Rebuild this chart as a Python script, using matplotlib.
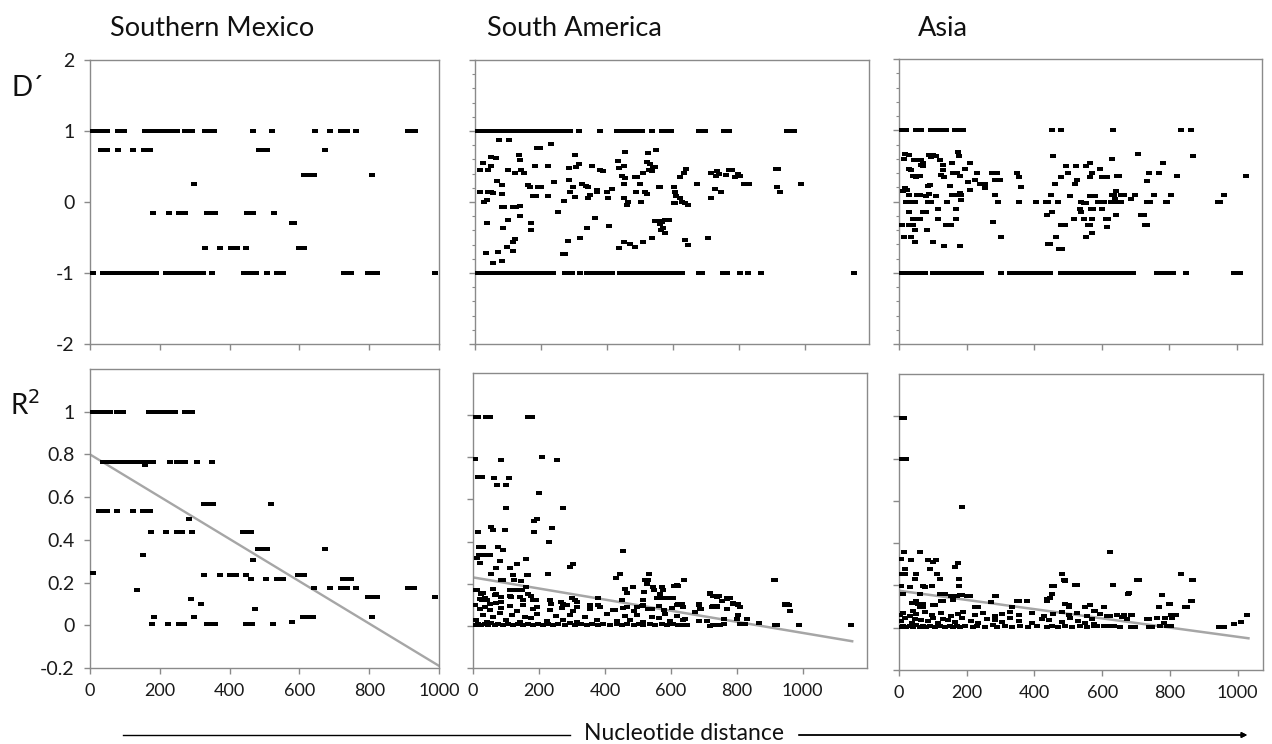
import matplotlib
matplotlib.use("Agg")
import matplotlib.pyplot as plt
from matplotlib.lines import Line2D
from matplotlib.path import Path
from matplotlib.ticker import MultipleLocator

plt.rcParams['font.family'] = ['Lato', 'DejaVu Sans']

# ---------------- data ----------------
region_titles = ["Southern Mexico", "South America", "Asia"]
x_tick_values = [0, 200, 400, 600, 800, 1000]
x_tick_labels = ["0", "200", "400", "600", "800", "1000"]
d_tick_values = [-2, -1, 0, 1, 2]
d_tick_labels = ["-2", "-1", "0", "1", "2"]
r_tick_values = [-0.2, 0, 0.2, 0.4, 0.6, 0.8, 1.0]
r_tick_labels = ["-0.2", "0", "0.2", "0.4", "0.6", "0.8", "1"]

# Southern Mexico D' : rows of constant value
mex_d_row_y = [1.0, 0.73, 0.38, 0.25, -0.15, -0.29, -0.65, -1.0]
mex_d_row_x = [
    [5, 14, 24, 33, 50, 81, 98, 159, 174, 184, 193, 203, 214, 228, 238, 248, 271, 281, 292,
     330, 340, 355, 468, 521, 644, 688, 719, 736, 763, 911, 921, 930],
    [31, 50, 79, 124, 155, 165, 172, 483, 495, 507, 674],
    [614, 628, 643, 807],
    [299],
    [181, 226, 255, 271, 336, 347, 359, 449, 458, 467, 526],
    [578, 584],
    [329, 373, 405, 420, 447, 598, 606, 614],
    [10, 38, 46, 54, 62, 70, 78, 86, 94, 102, 110, 118, 126, 134, 143, 152, 162, 172, 181, 190,
     217, 228, 236, 248, 257, 267, 276, 288, 298, 309, 324, 350, 441, 450, 460, 476, 506, 536,
     554, 728, 738, 747, 797, 806, 822, 988],
]

# Southern Mexico R^2 : rows of constant value
mex_r_row_y = [1.0, 0.765, 0.75, 0.57, 0.535, 0.497, 0.436, 0.358, 0.331, 0.306, 0.247,
               0.2375, 0.217, 0.175, 0.164, 0.133, 0.123, 0.1, 0.075, 0.0375, 0.016, 0.008]
mex_r_row_x = [
    [5, 14, 24, 33, 43, 57, 76, 95, 170, 180, 189, 199, 208, 218, 225, 234, 244, 272, 282, 291],
    [36, 45, 55, 65, 74, 84, 93, 103, 112, 122, 131, 138, 153, 162, 172, 181, 229, 248, 263,
     272, 306, 349],
    [158],
    [327, 340, 353, 520],
    [27, 36, 50, 76, 122, 151, 162, 172],
    [285],
    [174, 218, 248, 265, 291, 439, 450, 460],
    [482, 494, 506, 673],
    [151],
    [468],
    [10],
    [328, 372, 401, 418, 447, 595, 604, 613],
    [460, 504, 535, 552, 726, 736, 747],
    [643, 688, 718, 735, 762, 912, 920, 928],
    [136],
    [797, 806, 821, 988],
    [289],
    [318],
    [473],
    [184, 298, 611, 626, 640, 807],
    [580],
    [179, 224, 255, 270, 334, 346, 358, 447, 456, 465, 525],
]
mex_trend_x = [0, 1000]
mex_trend_y = [0.80, -0.19]

# South America D'
sa_d_row_y = [1.0, -1.0]
sa_d_row_x = [
    [0, 10, 20, 30, 40, 50, 60, 70, 80, 90, 100, 110, 120, 130, 137, 147, 157, 167, 182, 197,
     207, 217, 227, 237, 248, 256, 273, 289, 314, 378, 430, 440, 450, 460, 470, 481, 491, 506,
     537, 567, 577, 587, 593, 679, 689, 699, 755, 770, 947, 957, 967],
    [0, 10, 20, 30, 40, 50, 60, 70, 80, 90, 100, 110, 120, 130, 140, 150, 160, 170, 180, 190,
     198, 208, 228, 238, 274, 284, 294, 319, 339, 349, 359, 375, 385, 395, 405, 415, 441, 451,
     461, 471, 481, 491, 501, 511, 521, 531, 541, 551, 561, 571, 581, 591, 601, 611, 620, 628,
     679, 689, 753, 763, 803, 829, 866, 1148],
]
sa_d_x = [73, 103, 231, 187, 197, 302, 454, 524, 550, 48, 63, 132, 137, 24, 434, 314, 15, 38,
          48, 99, 122, 139, 149, 182, 220, 284, 307, 355, 380, 388, 438, 453, 522, 532, 539,
          527, 537, 547, 641, 633, 621, 716, 734, 739, 731, 770, 780, 761, 798, 805, 790, 912,
          919, 446, 456, 484, 491, 511, 68, 83, 160, 167, 190, 200, 241, 284, 296, 326, 336,
          344, 370, 415, 451, 501, 557, 562, 603, 674, 729, 747, 815, 830, 917, 925, 988, 15,
          48, 56, 83, 177, 184, 221, 289, 304, 349, 344, 370, 400, 402, 489, 517, 522, 453,
          463, 461, 503, 608, 611, 621, 628, 638, 645, 603, 608, 717, 27, 35, 40, 271, 83, 89,
          114, 124, 135, 253, 137, 99, 35, 170, 86, 170, 365, 407, 339, 547, 557, 567, 577,
          588, 562, 570, 564, 577, 319, 282, 122, 116, 114, 96, 71, 33, 56, 83, 266, 273, 438,
          453, 469, 486, 511, 537, 636, 645, 707]
sa_d_y = [0.87, 0.87, 0.82, 0.755, 0.755, 0.665, 0.70, 0.69, 0.73, 0.64, 0.62, 0.665, 0.59,
          0.55, 0.575, 0.54, 0.45, 0.45, 0.505, 0.45, 0.405, 0.45, 0.405, 0.505, 0.505, 0.48,
          0.49, 0.505, 0.45, 0.435, 0.48, 0.505, 0.56, 0.53, 0.49, 0.45, 0.44, 0.49, 0.47,
          0.405, 0.35, 0.405, 0.44, 0.40, 0.36, 0.45, 0.45, 0.38, 0.395, 0.37, 0.35, 0.46,
          0.46, 0.36, 0.34, 0.35, 0.35, 0.405, 0.29, 0.24, 0.24, 0.21, 0.217, 0.217, 0.28,
          0.31, 0.21, 0.255, 0.23, 0.21, 0.17, 0.18, 0.26, 0.255, 0.217, 0.217, 0.217, 0.255,
          0.18, 0.146, 0.255, 0.255, 0.21, 0.137, 0.255, 0.146, 0.146, 0.12, 0.11, 0.09, 0.09,
          0.08, 0.146, 0.075, 0.10, 0.05, 0.146, 0.146, 0.05, 0.137, 0.146, 0.11, 0.057,
          -0.005, -0.038, 0.005, 0.146, 0.09, 0.05, 0.005, -0.02, -0.04, -0.02, -0.02, 0.05,
          0.005, 0.03, 0.146, 0.02, -0.075, -0.075, -0.075, -0.066, -0.06, -0.146, -0.2,
          -0.255, -0.29, -0.29, -0.37, -0.395, -0.226, -0.335, -0.37, -0.264, -0.264, -0.28,
          -0.255, -0.25, -0.31, -0.36, -0.40, -0.44, -0.5, -0.547, -0.52, -0.557, -0.69, -0.63,
          -0.70, -0.72, -0.86, -0.83, -0.73, -0.73, -0.646, -0.57, -0.59, -0.64, -0.57, -0.5,
          -0.53, -0.60, -0.5]

# South America R^2
sa_r_x = [0, 8, 15, 38, 46, 53, 167, 174, 180, 7, 84, 210, 255, 15, 22, 28, 64, 109, 73, 101,
          200, 101, 274, 15, 56, 61, 97, 185, 194, 185, 240, 231, 18, 30, 18, 28, 38, 51, 12,
          20, 76, 91, 81, 71, 113, 132, 160, 164, 167, 56, 84, 91, 122, 125, 147, 228, 294,
          302, 454, 433, 446, 522, 532, 535, 527, 641, 611, 622, 912, 917,
          7, 12, 25, 30, 20, 27, 35, 43, 51, 61, 66, 71, 86, 86, 111, 122, 134, 142, 150, 160,
          167, 177, 111, 116, 142, 152, 182, 192, 233, 238, 268, 274, 299, 309, 314, 355, 380,
          385, 425, 451, 461, 466, 486, 496, 512, 517, 519, 532, 547, 550, 557, 567, 572, 575,
          577, 588, 598, 608, 618, 623, 633, 638, 684, 689, 719, 724, 734, 745, 740, 770, 775,
          790, 805, 810, 947, 952, 962,
          5, 15, 25, 36, 46, 56, 66, 76, 91, 107, 122, 137, 152, 167, 182, 198, 213, 228, 243,
          258, 279, 294, 309, 329, 345, 360, 380, 395, 416, 436, 451, 466, 487, 502, 517, 537,
          552, 573, 588, 608, 623,
          10, 30, 41, 61, 81, 101, 117, 142, 157, 177, 193, 223, 253, 274, 294, 314, 340, 375,
          405, 436, 461, 476, 497, 517, 542, 563, 583, 598, 618, 638,
          5, 20, 36, 51, 71, 86, 112, 132, 152, 182, 193, 233, 269, 284, 304, 314, 355, 380,
          431, 456, 466, 487, 517, 542, 563, 578, 603, 618,
          638, 648, 643, 633, 684, 691, 684, 709, 719, 729, 739, 750, 760, 729, 739, 770, 800,
          805, 810, 826, 831, 866, 917, 922, 988, 1147, 674, 760, 719, 729, 739, 755, 770, 780,
          790, 805, 947, 957, 962]
sa_r_y = [0.99, 0.99, 0.99, 0.99, 0.99, 0.99, 0.99, 0.99, 0.99, 0.79, 0.785, 0.80, 0.785,
          0.706, 0.706, 0.706, 0.70, 0.70, 0.668, 0.668, 0.63, 0.56, 0.56, 0.445, 0.47, 0.453,
          0.453, 0.5, 0.505, 0.445, 0.464, 0.40, 0.374, 0.374, 0.335, 0.335, 0.338, 0.338,
          0.32, 0.30, 0.374, 0.36, 0.31, 0.275, 0.275, 0.295, 0.316, 0.243, 0.243, 0.248, 0.22,
          0.22, 0.24, 0.22, 0.213, 0.248, 0.28, 0.295, 0.355, 0.227, 0.248, 0.22, 0.22, 0.248,
          0.2, 0.22, 0.19, 0.19, 0.22, 0.22,
          0.172, 0.172, 0.153, 0.156, 0.126, 0.125, 0.13, 0.122, 0.106, 0.177, 0.145, 0.153,
          0.137, 0.114, 0.169, 0.169, 0.172, 0.169, 0.172, 0.185, 0.153, 0.14, 0.14, 0.137,
          0.137, 0.125, 0.122, 0.125, 0.122, 0.106, 0.114, 0.106, 0.133, 0.122, 0.114, 0.098,
          0.133, 0.09, 0.074, 0.125, 0.177, 0.156, 0.185, 0.09, 0.095, 0.122, 0.161, 0.082,
          0.185, 0.169, 0.134, 0.153, 0.185, 0.169, 0.134, 0.13, 0.134, 0.134, 0.193, 0.106,
          0.106, 0.09, 0.103, 0.082, 0.153, 0.09, 0.14, 0.14, 0.09, 0.13, 0.13, 0.106, 0.103,
          0.09, 0.103, 0.103, 0.071,
          0.005, 0.01, 0.003, 0.008, 0.005, 0.012, 0.003, 0.008, 0.005, 0.01, 0.003, 0.008,
          0.005, 0.01, 0.003, 0.008, 0.005, 0.01, 0.003, 0.008, 0.005, 0.012, 0.003, 0.008,
          0.005, 0.01, 0.003, 0.008, 0.005, 0.01, 0.003, 0.008, 0.005, 0.01, 0.003, 0.008,
          0.005, 0.01, 0.003, 0.008, 0.005,
          0.03, 0.05, 0.02, 0.04, 0.06, 0.03, 0.05, 0.02, 0.04, 0.035, 0.055, 0.025, 0.045,
          0.03, 0.05, 0.02, 0.04, 0.03, 0.055, 0.025, 0.045, 0.03, 0.05, 0.02, 0.04, 0.035,
          0.055, 0.025, 0.045, 0.03,
          0.1, 0.08, 0.09, 0.075, 0.11, 0.085, 0.095, 0.07, 0.1, 0.08, 0.09, 0.075, 0.085, 0.1,
          0.07, 0.09, 0.08, 0.1, 0.075, 0.085, 0.09, 0.07, 0.1, 0.08, 0.095, 0.075, 0.085, 0.1,
          0.003, 0.003, 0.034, 0.1, 0.1, 0.08, 0.023, 0.023, 0.0, 0.003, 0.003, 0.006, 0.01,
          0.092, 0.092, 0.08, 0.034, 0.05, 0.008, 0.008, 0.034, 0.014, 0.003, 0.003, 0.006,
          0.003, 0.066, 0.034, 0.155, 0.144, 0.139, 0.117, 0.128, 0.133, 0.108, 0.097, 0.1,
          0.1, 0.07]
sa_trend_x = [0, 1150]
sa_trend_y = [0.23, -0.073]

# Asia D'
as_d_row_y = [1.0, -1.0]
as_d_row_x = [
    [2, 12, 22, 51, 66, 96, 106, 116, 126, 140, 166, 176, 190, 452, 481, 634, 834, 866],
    [0, 10, 20, 30, 40, 50, 60, 70, 76, 101, 111, 121, 131, 145, 158, 168, 178, 188, 198, 208,
     218, 228, 244, 303, 328, 338, 348, 358, 368, 378, 388, 398, 408, 418, 428, 440, 446, 481,
     491, 501, 511, 521, 531, 541, 551, 561, 571, 581, 591, 601, 611, 621, 631, 641, 651, 661,
     671, 681, 693, 763, 783, 793, 810, 850, 992, 1010],
]
as_d_x = [17, 15, 31, 30, 37, 40, 47, 61, 51, 45, 56, 66, 71, 71, 66, 89, 101, 111, 96, 121,
          129, 129, 125, 132, 158, 160, 172, 175, 178, 182, 195, 210, 210, 185, 17, 12, 24, 30,
          22, 37, 46, 54, 61, 86, 96, 110, 86, 89, 81, 91, 116, 141, 150, 158, 170, 180, 185,
          30, 41, 54, 61, 71, 81, 10, 30, 41, 46, 15, 35, 48, 84, 101, 116, 140, 155, 170, 170,
          180, 132, 205, 225, 231, 239, 254, 254, 274, 289, 284, 299, 284, 294, 277, 303, 348,
          355, 362, 355, 407, 434, 441, 451, 454, 456, 461, 471, 437, 447, 442, 481, 491, 466,
          474, 484, 481, 496, 501, 506, 518, 521, 524, 526, 538, 536, 538, 548, 553, 548, 553,
          565, 560, 555, 565, 565, 573, 565, 570, 575, 573, 573, 595, 600, 610, 615, 580, 590,
          601, 608, 613, 616, 619, 632, 627, 632, 637, 640, 642, 647, 646, 644, 651, 656, 666,
          656, 687, 698, 718, 725, 728, 733, 733, 741, 708, 735, 743, 755, 771, 781, 790, 795,
          805, 822, 871, 945, 952, 963, 1029]
as_d_y = [0.67, 0.60, 0.656, 0.456, 0.437, 0.353, 0.353, 0.353, 0.34, 0.577, 0.577, 0.586,
          0.54, 0.493, 0.516, 0.656, 0.656, 0.642, 0.628, 0.586, 0.516, 0.446, 0.377, 0.34,
          0.54, 0.4, 0.4, 0.7, 0.642, 0.353, 0.456, 0.54, 0.167, 0.098, 0.19, 0.144, 0.167,
          0.098, 0.0, 0.0, 0.0, 0.09, 0.098, 0.0, 0.0, 0.074, 0.223, 0.111, 0.074, 0.237, -0.1,
          0.0, 0.214, 0.09, 0.09, 0.12, 0.028, -0.144, -0.25, -0.25, -0.25, -0.144, -0.144,
          -0.33, -0.33, -0.33, -0.4, -0.5, -0.5, -0.567, -0.4, -0.567, -0.25, -0.33, -0.33,
          -0.1, -0.25, -0.62, -0.62, 0.274, 0.307, 0.4, 0.25, 0.25, 0.19, 0.4, 0.4, 0.307,
          0.307, 0.098, 0.0, -0.284, -0.5, 0.4, 0.34, 0.2, 0.0, 0.0, 0.0, 0.0, 0.09, -0.144,
          0.642, 0.247, 0.0, -0.195, -0.6, -0.6, -0.33, -0.33, -0.5, -0.67, -0.67, 0.34, 0.493,
          0.4, 0.084, -0.25, 0.247, 0.493, 0.307, 0.0, -0.112, -0.144, -0.028, -0.028, -0.25,
          -0.5, -0.33, -0.33, 0.5, 0.54, 0.34, 0.4, 0.074, -0.112, -0.112, -0.25, -0.437,
          0.456, 0.34, 0.34, 0.34, 0.074, 0.0, -0.1, 0.0, -0.25, -0.353, -0.25, 0.6, 0.0,
          0.098, 0.098, 0.042, -0.195, 0.0, 0.353, 0.144, 0.353, 0.098, 0.098, 0.0, 0.037,
          0.098, -0.195, -0.195, -0.33, -0.33, 0.284, 0.4, 0.67, 0.0, 0.0, 0.098, 0.4, 0.54,
          0.0, 0.0, 0.098, 0.353, 0.632, 0.0, 0.0, 0.098, 0.353]

# Asia R^2
as_r_x = [2, 8, 15, 7, 12, 22, 185, 622, 15, 61, 7, 34, 86, 101, 108, 93, 165, 175, 10, 17,
          19, 51, 46, 111, 122, 32, 71, 76, 96, 178, 178, 7, 12, 61, 50, 41, 120, 135, 155,
          180, 200, 210, 125, 101, 71, 56, 37,
          285, 348, 377, 437, 452, 458, 481, 486, 491, 521, 526, 491, 501, 549, 563, 605, 631,
          677, 704, 777, 767, 797, 832, 866, 861, 846, 1028, 1010, 990, 960, 950, 945,
          42, 61, 71, 106, 130, 160, 170, 185, 224, 234, 273, 283, 333, 353, 437, 447, 451,
          491, 501, 526, 550, 565, 575, 632, 679, 708, 869, 799, 769, 850, 864,
          2, 12, 22, 32, 42, 51, 61, 71, 81, 91, 106, 121, 135, 150, 160, 170, 180, 195, 219,
          229, 254, 278, 288, 313, 333, 358, 382, 407, 437, 451, 471, 491, 511, 535, 555, 575,
          7, 17, 37, 46, 66, 86, 101, 116, 130, 145, 165, 185, 214, 234, 259, 283, 303, 328,
          353, 392, 422, 442, 481, 506, 530, 550, 570,
          2, 12, 32, 51, 76, 96, 125, 155, 175, 190, 224, 249, 283, 303, 328, 353, 392, 427,
          456, 481, 501, 526, 555,
          570, 580, 595, 606, 614, 624, 644, 659, 664, 684, 689, 674, 733, 738, 763, 802, 817,
          807, 787, 784, 792, 575, 585, 605, 619, 634, 654, 684, 698, 738, 748, 772, 802]
as_r_y = [0.99, 0.99, 0.99, 0.80, 0.80, 0.80, 0.572, 0.36, 0.36, 0.36, 0.324, 0.32, 0.32,
          0.313, 0.32, 0.276, 0.288, 0.308, 0.253, 0.253, 0.276, 0.253, 0.232, 0.253, 0.232,
          0.194, 0.197, 0.194, 0.197, 0.232, 0.197, 0.197, 0.158, 0.158, 0.126, 0.118, 0.158,
          0.158, 0.15, 0.153, 0.15, 0.15, 0.126, 0.106, 0.1, 0.11, 0.118,
          0.15, 0.126, 0.126, 0.134, 0.197, 0.197, 0.253, 0.226, 0.226, 0.202, 0.202, 0.11,
          0.1, 0.1, 0.106, 0.1, 0.202, 0.161, 0.226, 0.153, 0.1, 0.11, 0.253, 0.226, 0.126,
          0.1, 0.058, 0.027, 0.016, 0.005, 0.005, 0.005,
          0.079, 0.1, 0.11, 0.106, 0.126, 0.13, 0.15, 0.153, 0.1, 0.1, 0.12, 0.15, 0.098,
          0.126, 0.126, 0.142, 0.158, 0.221, 0.106, 0.2, 0.1, 0.106, 0.079, 0.2, 0.163, 0.224,
          0.224, 0.11, 0.1, 0.1, 0.126,
          0.005, 0.01, 0.003, 0.008, 0.005, 0.012, 0.003, 0.008, 0.005, 0.01, 0.003, 0.008,
          0.005, 0.01, 0.003, 0.008, 0.005, 0.01, 0.003, 0.008, 0.005, 0.012, 0.003, 0.008,
          0.005, 0.01, 0.003, 0.008, 0.005, 0.01, 0.003, 0.008, 0.005, 0.01, 0.003, 0.008,
          0.03, 0.045, 0.02, 0.04, 0.035, 0.03, 0.045, 0.02, 0.04, 0.035, 0.025, 0.045, 0.03,
          0.02, 0.04, 0.035, 0.025, 0.045, 0.03, 0.02, 0.04, 0.035, 0.025, 0.045, 0.03, 0.02,
          0.04,
          0.06, 0.07, 0.055, 0.065, 0.075, 0.06, 0.07, 0.055, 0.065, 0.075, 0.06, 0.07, 0.055,
          0.065, 0.075, 0.06, 0.07, 0.055, 0.065, 0.075, 0.06, 0.07, 0.055,
          0.04, 0.079, 0.063, 0.1, 0.055, 0.055, 0.058, 0.052, 0.058, 0.058, 0.058, 0.04, 0.04,
          0.043, 0.047, 0.058, 0.058, 0.047, 0.047, 0.024, 0.008, 0.016, 0.008, 0.008, 0.008,
          0.008, 0.005, 0.005, 0.005, 0.003, 0.003, 0.008, 0.008]
as_trend_x = [0, 1032]
as_trend_y = [0.175, -0.05]

# ---------------- figure ----------------
W, H = 1272, 744
fig = plt.figure(figsize=(W / 100, H / 100), dpi=100)
fig.patch.set_facecolor("white")


def rect(x0, y0, x1, y1):
    return [x0 / W, 1 - y1 / H, (x1 - x0) / W, (y1 - y0) / H]


ax_tl = fig.add_axes(rect(90, 60, 439, 344))
ax_tm = fig.add_axes(rect(475, 60, 869, 344))
ax_tr = fig.add_axes(rect(899, 59, 1262, 344))
ax_bl = fig.add_axes(rect(90, 369, 439, 668))
ax_bm = fig.add_axes(rect(473, 373, 867, 668))
ax_br = fig.add_axes(rect(899, 374, 1263, 670))

spine_col = "#8a8a8a"
box_marker = Path([(-1.12, -1.0), (1.12, -1.0), (1.12, 1.0), (-1.12, 1.0), (-1.12, -1.0)],
                  [Path.MOVETO, Path.LINETO, Path.LINETO, Path.LINETO, Path.CLOSEPOLY])
mk = dict(marker=box_marker, s=15, c="black", linewidths=0, zorder=3)


def style(ax, xmax, ymin, ymax, yticks, ylabels, show_x, minor=None):
    ax.set_xlim(0, xmax)
    ax.set_ylim(ymin, ymax)
    for sp in ax.spines.values():
        sp.set_color(spine_col)
        sp.set_linewidth(1.0)
    ax.set_xticks(x_tick_values)
    ax.set_yticks(yticks)
    if show_x:
        ax.set_xticklabels(x_tick_labels, fontsize=13, color="#1a1a1a")
    else:
        ax.set_xticklabels([])
    if ylabels is not None:
        ax.set_yticklabels(ylabels, fontsize=14, color="#1a1a1a")
    else:
        ax.set_yticklabels([])
    if minor:
        ax.yaxis.set_minor_locator(MultipleLocator(minor))
    ax.tick_params(axis="both", which="major", direction="out", length=4, width=1,
                   color=spine_col)
    ax.tick_params(axis="y", which="minor", direction="out", length=2.5, width=0.8,
                   color=spine_col)
    ax.tick_params(axis="x", pad=7)
    ax.tick_params(axis="y", pad=7)


# Southern Mexico D'
for yv, xs in zip(mex_d_row_y, mex_d_row_x):
    ax_tl.scatter(xs, [yv] * len(xs), **mk)
style(ax_tl, 1000, -2, 2, d_tick_values, d_tick_labels, False)

# South America D'
for yv, xs in zip(sa_d_row_y, sa_d_row_x):
    ax_tm.scatter(xs, [yv] * len(xs), **mk)
ax_tm.scatter(sa_d_x, sa_d_y, **mk)
style(ax_tm, 1195, -2, 2, d_tick_values, None, False, minor=0.2)

# Asia D'
for yv, xs in zip(as_d_row_y, as_d_row_x):
    ax_tr.scatter(xs, [yv] * len(xs), **mk)
ax_tr.scatter(as_d_x, as_d_y, **mk)
style(ax_tr, 1075, -2, 2, d_tick_values, None, False, minor=0.2)

# Southern Mexico R2
for yv, xs in zip(mex_r_row_y, mex_r_row_x):
    ax_bl.scatter(xs, [yv] * len(xs), **mk)
ax_bl.plot(mex_trend_x, mex_trend_y, color="#a6a6a6", lw=1.7, zorder=2)
style(ax_bl, 1000, -0.2, 1.2, r_tick_values, r_tick_labels, True)

# South America R2
ax_bm.scatter(sa_r_x, sa_r_y, **mk)
ax_bm.plot(sa_trend_x, sa_trend_y, color="#a6a6a6", lw=1.8, zorder=2)
style(ax_bm, 1195, -0.2, 1.2, r_tick_values, None, True)

# Asia R2
ax_br.scatter(as_r_x, as_r_y, **mk)
ax_br.plot(as_trend_x, as_trend_y, color="#a6a6a6", lw=1.8, zorder=2)
style(ax_br, 1075, -0.2, 1.2, r_tick_values, None, True)

# titles
title_x = [110, 487, 918]
for t, xp in zip(region_titles, title_x):
    fig.text(xp / W, 1 - 28 / H, t, fontsize=19.5, ha="left", va="center", color="#111111")

fig.text(12 / W, 1 - 88 / H, "D\u00b4", fontsize=20, ha="left", va="center", color="#111111")
fig.text(10 / W, 1 - 405 / H, "R$^{2}$", fontsize=20, ha="left", va="center", color="#111111",
         math_fontfamily="dejavusans")

# bottom axis caption with arrow
fig.add_artist(Line2D([123 / W, 570 / W], [1 - 735 / H, 1 - 735 / H], color="black", lw=1.0))
fig.text(684 / W, 1 - 733 / H, "Nucleotide distance", fontsize=16.5, ha="center", va="center",
         color="#111111")
fig.add_artist(plt.annotate("", xy=(1250 / W, 1 - 735 / H), xytext=(796 / W, 1 - 735 / H),
                            xycoords="figure fraction", textcoords="figure fraction",
                            arrowprops=dict(arrowstyle="-|>", color="black", lw=1.0,
                                            mutation_scale=8)))

fig.savefig("out.png", dpi=100, facecolor="white")
